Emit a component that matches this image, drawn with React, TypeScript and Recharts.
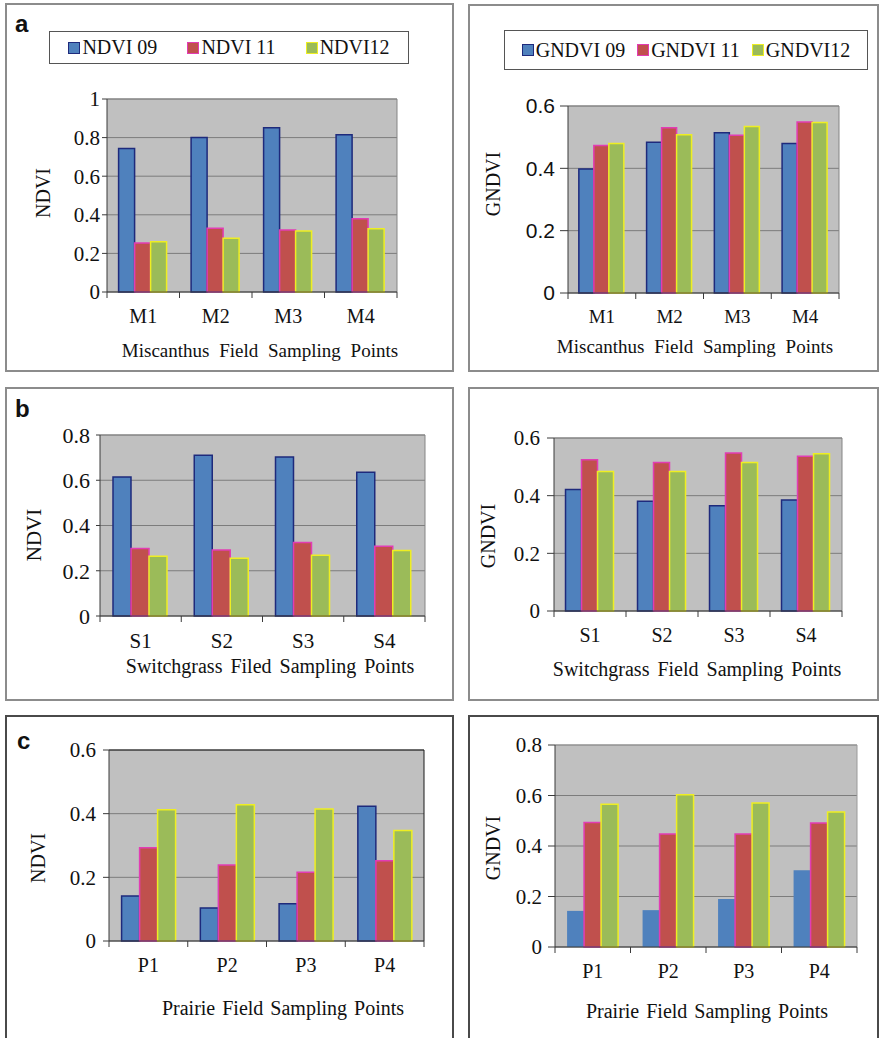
import { BarChart, Bar, XAxis, YAxis, CartesianGrid, Legend } from "recharts";

const miscanthusPoints = ["M1", "M2", "M3", "M4"];
const switchgrassPoints = ["S1", "S2", "S3", "S4"];
const prairiePoints = ["P1", "P2", "P3", "P4"];

const ndviNames = ["NDVI 09", "NDVI 11", "NDVI12"];
const gndviNames = ["GNDVI 09", "GNDVI 11", "GNDVI12"];

// Miscanthus field
const miscanthusNdvi09 = [0.744, 0.8, 0.851, 0.815];
const miscanthusNdvi11 = [0.254, 0.33, 0.321, 0.38];
const miscanthusNdvi12 = [0.26, 0.278, 0.316, 0.328];
const miscanthusGndvi09 = [0.398, 0.484, 0.514, 0.48];
const miscanthusGndvi11 = [0.473, 0.53, 0.506, 0.549];
const miscanthusGndvi12 = [0.48, 0.508, 0.534, 0.547];

// Switchgrass field
const switchgrassNdvi09 = [0.614, 0.711, 0.703, 0.635];
const switchgrassNdvi11 = [0.298, 0.292, 0.325, 0.308];
const switchgrassNdvi12 = [0.264, 0.255, 0.268, 0.29];
const switchgrassGndvi09 = [0.421, 0.381, 0.365, 0.385];
const switchgrassGndvi11 = [0.525, 0.515, 0.548, 0.537];
const switchgrassGndvi12 = [0.484, 0.484, 0.515, 0.545];

// Prairie field
const prairieNdvi09 = [0.141, 0.104, 0.117, 0.423];
const prairieNdvi11 = [0.293, 0.239, 0.216, 0.252];
const prairieNdvi12 = [0.412, 0.428, 0.415, 0.347];
const prairieGndvi09 = [0.143, 0.146, 0.19, 0.304];
const prairieGndvi11 = [0.493, 0.448, 0.448, 0.491];
const prairieGndvi12 = [0.565, 0.603, 0.57, 0.535];

const ticksTo1 = [0, 0.2, 0.4, 0.6, 0.8, 1];
const ticksTo08 = [0, 0.2, 0.4, 0.6, 0.8];
const ticksTo06 = [0, 0.2, 0.4, 0.6];

const SERIF = "'Liberation Serif', 'Times New Roman', serif";
const SANS = "'Liberation Sans', Arial, sans-serif";
const AXIS = "#3a3a3a";

const seriesStyle = [
  { key: "y09", fill: "#4F81BD", stroke: "#1E2A7C" },
  { key: "y11", fill: "#C0504D", stroke: "#E23CB4" },
  { key: "y12", fill: "#9BBB59", stroke: "#EEEE22" },
];

const toRows = (points: string[], a: number[], b: number[], c: number[]) =>
  points.map((point, i) => ({ point, y09: a[i], y11: b[i], y12: c[i] }));

type Box = { x: number; y: number; w: number; h: number };

type PanelSpec = {
  box: Box;
  frame: string;
  plot: { left: number; top: number; right: number; bottom: number };
  plotBorder: string;
  data: ReturnType<typeof toRows>;
  names: string[];
  max: number;
  ticks: number[];
  yTick: { size: number; margin: number; font: string; fontSize: number };
  xTick: { baseline: number; fontSize: number };
  yTitle: { text: string; x: number; y: number; fontSize: number };
  xTitle: { text: string; cx: number; baseline: number; fontSize: number; wordSpacing: number };
  legend?: Box & { gap: number };
  blueStroke?: boolean;
};

const panels: PanelSpec[] = [
  {
    box: { x: 5, y: 3, w: 449, h: 369 },
    frame: "#8c8c8c",
    plot: { left: 107, top: 99, right: 397, bottom: 292 },
    plotBorder: "#858585",
    data: toRows(miscanthusPoints, miscanthusNdvi09, miscanthusNdvi11, miscanthusNdvi12),
    names: ndviNames,
    max: 1,
    ticks: ticksTo1,
    yTick: { size: 5, margin: 2, font: SERIF, fontSize: 21 },
    xTick: { baseline: 323, fontSize: 20 },
    yTitle: { text: "NDVI", x: 43, y: 193, fontSize: 20 },
    xTitle: { text: "Miscanthus Field Sampling Points", cx: 260, baseline: 357, fontSize: 19, wordSpacing: 5 },
    legend: { x: 49, y: 31, w: 360, h: 33, gap: 30 },
  },
  {
    box: { x: 468, y: 4, w: 411, h: 368 },
    frame: "#8c8c8c",
    plot: { left: 568, top: 106, right: 839, bottom: 293 },
    plotBorder: "#858585",
    data: toRows(miscanthusPoints, miscanthusGndvi09, miscanthusGndvi11, miscanthusGndvi12),
    names: gndviNames,
    max: 0.6,
    ticks: ticksTo06,
    yTick: { size: 8, margin: 5, font: SANS, fontSize: 21 },
    xTick: { baseline: 323, fontSize: 19 },
    yTitle: { text: "GNDVI", x: 493, y: 184, fontSize: 20 },
    xTitle: { text: "Miscanthus Field Sampling Points", cx: 695, baseline: 353, fontSize: 19, wordSpacing: 5 },
    legend: { x: 504, y: 30, w: 364, h: 40, gap: 12 },
  },
  {
    box: { x: 5, y: 387, w: 449, h: 314 },
    frame: "#8c8c8c",
    plot: { left: 100, top: 435, right: 425, bottom: 616 },
    plotBorder: "#858585",
    data: toRows(switchgrassPoints, switchgrassNdvi09, switchgrassNdvi11, switchgrassNdvi12),
    names: ndviNames,
    max: 0.8,
    ticks: ticksTo08,
    yTick: { size: 4, margin: 6, font: SERIF, fontSize: 22 },
    xTick: { baseline: 648, fontSize: 21 },
    yTitle: { text: "NDVI", x: 34, y: 535, fontSize: 21 },
    xTitle: { text: "Switchgrass Filed Sampling Points", cx: 270, baseline: 673, fontSize: 20, wordSpacing: 3 },
  },
  {
    box: { x: 468, y: 387, w: 411, h: 314 },
    frame: "#8c8c8c",
    plot: { left: 554, top: 438, right: 842, bottom: 611 },
    plotBorder: "#858585",
    data: toRows(switchgrassPoints, switchgrassGndvi09, switchgrassGndvi11, switchgrassGndvi12),
    names: gndviNames,
    max: 0.6,
    ticks: ticksTo06,
    yTick: { size: 7, margin: 7, font: SERIF, fontSize: 21 },
    xTick: { baseline: 642, fontSize: 20 },
    yTitle: { text: "GNDVI", x: 488, y: 536, fontSize: 20 },
    xTitle: { text: "Switchgrass Field Sampling Points", cx: 697, baseline: 676, fontSize: 20, wordSpacing: 3 },
  },
  {
    box: { x: 5, y: 715, w: 449, h: 330 },
    frame: "#4a4a4a",
    plot: { left: 109, top: 750, right: 424, bottom: 941 },
    plotBorder: "#1a1a1a",
    data: toRows(prairiePoints, prairieNdvi09, prairieNdvi11, prairieNdvi12),
    names: ndviNames,
    max: 0.6,
    ticks: ticksTo06,
    yTick: { size: 6, margin: 7, font: SERIF, fontSize: 21 },
    xTick: { baseline: 972, fontSize: 20 },
    yTitle: { text: "NDVI", x: 38, y: 858, fontSize: 20 },
    xTitle: { text: "Prairie Field Sampling  Points", cx: 283, baseline: 1015, fontSize: 20, wordSpacing: 2 },
  },
  {
    box: { x: 468, y: 715, w: 411, h: 330 },
    frame: "#4a4a4a",
    plot: { left: 555, top: 745, right: 857, bottom: 947 },
    plotBorder: "#9a9a9a",
    data: toRows(prairiePoints, prairieGndvi09, prairieGndvi11, prairieGndvi12),
    names: gndviNames,
    max: 0.8,
    ticks: ticksTo08,
    yTick: { size: 7, margin: 6, font: SERIF, fontSize: 21 },
    xTick: { baseline: 978, fontSize: 20 },
    yTitle: { text: "GNDVI", x: 493, y: 848, fontSize: 20 },
    xTitle: { text: "Prairie Field Sampling Points", cx: 707, baseline: 1018, fontSize: 20, wordSpacing: 2 },
    blueStroke: false,
  },
];

const panelLetters = [
  { text: "a", x: 15, baseline: 32 },
  { text: "b", x: 15, baseline: 417 },
  { text: "c", x: 17, baseline: 749 },
];

const LegendBox = ({ names, gap }: { names: string[]; gap: number }) => (
  <div
    style={{
      boxSizing: "border-box",
      width: "100%",
      height: "100%",
      border: "1.5px solid #555",
      background: "#fff",
      display: "flex",
      alignItems: "center",
      justifyContent: "center",
      fontFamily: SERIF,
      fontSize: 20,
      color: "#111",
    }}
  >
    {names.map((name, i) => (
      <span key={name} style={{ display: "flex", alignItems: "center", marginLeft: i ? gap : 0 }}>
        <span
          style={{
            display: "inline-block",
            width: 10,
            height: 10,
            background: seriesStyle[i].fill,
            border: `1px solid ${seriesStyle[i].stroke}`,
            marginRight: 2,
          }}
        />
        {name}
      </span>
    ))}
  </div>
);

// Category label plus Excel-style tick marks on the category boundaries
const CategoryTick = (props: any) => {
  const { x, y, payload, index, visibleTicksCount, width, gap, fontSize } = props;
  const half = typeof payload.offset === "number" && payload.offset > 0
    ? payload.offset
    : width / visibleTicksCount / 2;
  const last = index === visibleTicksCount - 1;
  return (
    <g>
      <line x1={x - half} x2={x - half} y1={y} y2={y + 6} stroke={AXIS} />
      {last && <line x1={x + half} x2={x + half} y1={y} y2={y + 6} stroke={AXIS} />}
      <text x={x} y={y + gap} textAnchor="middle" fill="#111" fontSize={fontSize} fontFamily={SERIF}>
        {payload.value}
      </text>
    </g>
  );
};

function Panel({ spec }: { spec: PanelSpec }) {
  const { box, plot } = spec;
  const yAxisWidth = plot.left - box.x;
  const xAxisHeight = spec.xTitle.baseline - plot.bottom + 4;
  const margin = {
    top: plot.top - box.y,
    right: box.x + box.w - plot.right,
    left: 0,
    bottom: box.y + box.h - plot.bottom - xAxisHeight,
  };

  return (
    <div
      style={{
        position: "absolute",
        left: box.x,
        top: box.y,
        width: box.w,
        height: box.h,
        fontFamily: SERIF,
      }}
    >
      <div
        style={{
          position: "absolute",
          inset: 0,
          border: `2px solid ${spec.frame}`,
          boxSizing: "border-box",
        }}
      />
      <BarChart
        width={box.w}
        height={box.h}
        data={spec.data}
        margin={margin}
        barCategoryGap="16%"
        barGap={0}
      >
        <CartesianGrid vertical={false} fill="#C0C0C0" stroke="#7c7c7c" />
        {/* top and right edges of the plot area */}
        <CartesianGrid
          fill="none"
          stroke={spec.plotBorder}
          horizontalCoordinatesGenerator={({ offset }: any) => [offset.top]}
          verticalCoordinatesGenerator={({ offset }: any) => [offset.left + offset.width]}
        />
        <XAxis
          dataKey="point"
          height={xAxisHeight}
          tickLine={false}
          tickSize={0}
          tickMargin={0}
          interval={0}
          axisLine={{ stroke: AXIS }}
          tick={
            <CategoryTick
              gap={spec.xTick.baseline - plot.bottom}
              fontSize={spec.xTick.fontSize}
            />
          }
          label={{
            value: spec.xTitle.text,
            position: "insideBottom",
            offset: 4,
            dx: spec.xTitle.cx - (plot.left + plot.right) / 2,
            style: {
              fill: "#111",
              fontSize: spec.xTitle.fontSize,
              fontFamily: SERIF,
              wordSpacing: spec.xTitle.wordSpacing,
              whiteSpace: "pre",
            },
          }}
        />
        <YAxis
          width={yAxisWidth}
          domain={[0, spec.max]}
          ticks={spec.ticks}
          interval={0}
          tickSize={spec.yTick.size}
          tickMargin={spec.yTick.margin}
          tickLine={{ stroke: AXIS }}
          axisLine={{ stroke: AXIS }}
          tick={{
            fill: "#111",
            fontSize: spec.yTick.fontSize,
            fontFamily: spec.yTick.font,
          }}
          label={{
            value: spec.yTitle.text,
            angle: -90,
            position: "insideLeft",
            offset: spec.yTitle.x - box.x,
            dy: spec.yTitle.y - (plot.top + plot.bottom) / 2,
            style: {
              textAnchor: "middle",
              fill: "#111",
              fontSize: spec.yTitle.fontSize,
              fontFamily: SERIF,
            },
          }}
        />
        {spec.legend && (
          <Legend
            layout="horizontal"
            verticalAlign="middle"
            align="center"
            wrapperStyle={{
              top: spec.legend.y - box.y,
              left: spec.legend.x - box.x,
              width: spec.legend.w,
              height: spec.legend.h,
            }}
            content={() => <LegendBox names={spec.names} gap={spec.legend!.gap} />}
          />
        )}
        {seriesStyle.map((s, i) => (
          <Bar
            key={s.key}
            dataKey={s.key}
            name={spec.names[i]}
            fill={s.fill}
            stroke={i === 0 && spec.blueStroke === false ? "none" : s.stroke}
            strokeWidth={1.5}
            isAnimationActive={false}
          />
        ))}
      </BarChart>
    </div>
  );
}

export default function App() {
  return (
    <div
      style={{
        position: "absolute",
        left: 0,
        top: 0,
        width: 881,
        height: 1038,
        overflow: "hidden",
        background: "#fff",
      }}
    >
      {panels.map((p, i) => (
        <Panel key={i} spec={p} />
      ))}
      {panelLetters.map((l) => (
        <div
          key={l.text}
          style={{
            position: "absolute",
            left: l.x,
            top: l.baseline - 20,
            fontFamily: SANS,
            fontWeight: "bold",
            fontSize: 24,
            lineHeight: "24px",
            color: "#111",
          }}
        >
          {l.text}
        </div>
      ))}
    </div>
  );
}
